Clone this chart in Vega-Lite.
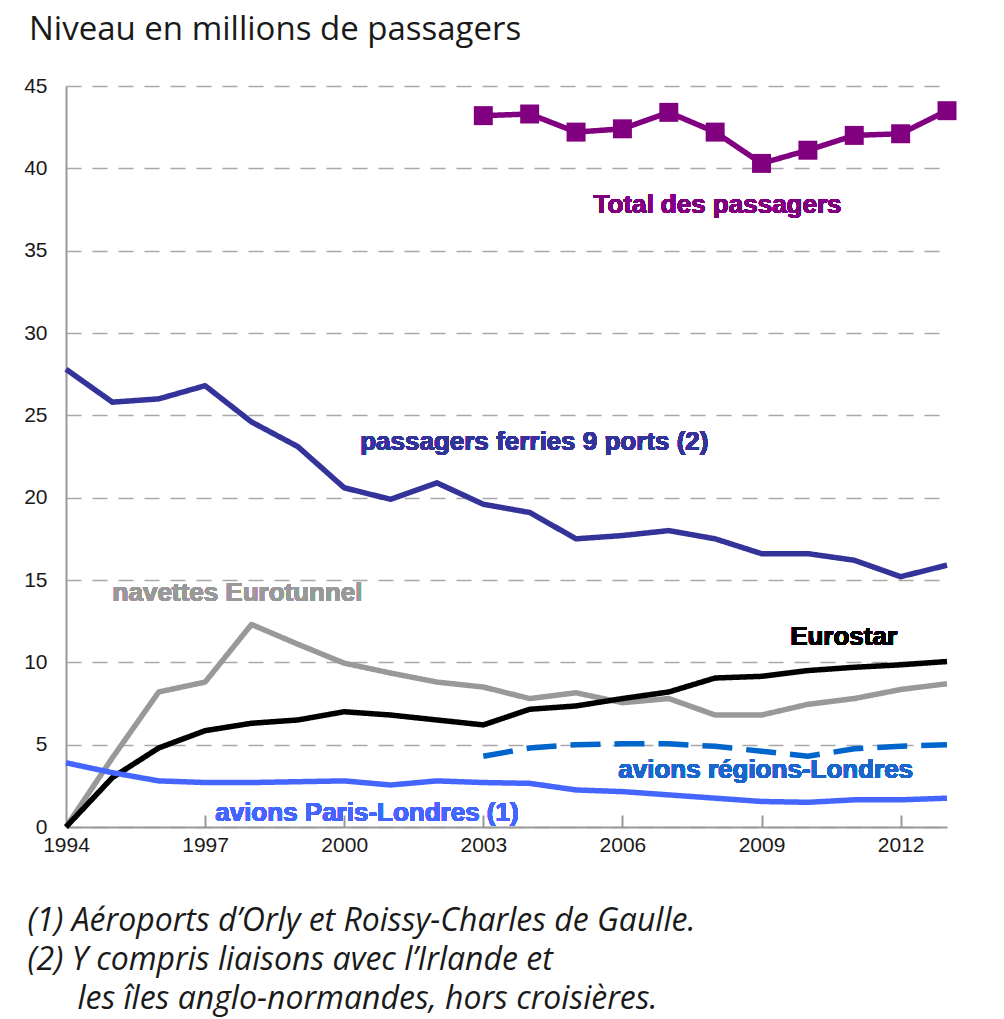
{
  "$schema": "https://vega.github.io/schema/vega-lite/v6.json",
  "width": 881,
  "height": 741,
  "autosize": {"type": "none"},
  "padding": {"left": 66, "top": 86, "right": 57, "bottom": 192},
  "background": "white",
  "title": {
    "text": "Niveau en millions de passagers",
    "anchor": "start",
    "frame": "group",
    "dx": -37,
    "font": "Open Sans",
    "fontSize": 33,
    "fontWeight": "normal",
    "color": "#1a1a1a",
    "baseline": "alphabetic",
    "offset": 2
  },
  "config": {
    "view": {"stroke": null},
    "axis": {"labelFont": "Liberation Sans", "labelFontSize": 21, "labelColor": "#1a1a1a"}
  },
  "resolve": {"axis": {"x": "independent"}},
  "data": {
    "values": [
      {"year": 2003, "series": "Total des passagers", "value": 43.2},
      {"year": 2004, "series": "Total des passagers", "value": 43.3},
      {"year": 2005, "series": "Total des passagers", "value": 42.2},
      {"year": 2006, "series": "Total des passagers", "value": 42.4},
      {"year": 2007, "series": "Total des passagers", "value": 43.4},
      {"year": 2008, "series": "Total des passagers", "value": 42.2},
      {"year": 2009, "series": "Total des passagers", "value": 40.3},
      {"year": 2010, "series": "Total des passagers", "value": 41.1},
      {"year": 2011, "series": "Total des passagers", "value": 42.0},
      {"year": 2012, "series": "Total des passagers", "value": 42.1},
      {"year": 2013, "series": "Total des passagers", "value": 43.5},

      {"year": 1994, "series": "passagers ferries 9 ports (2)", "value": 27.8},
      {"year": 1995, "series": "passagers ferries 9 ports (2)", "value": 25.8},
      {"year": 1996, "series": "passagers ferries 9 ports (2)", "value": 26.0},
      {"year": 1997, "series": "passagers ferries 9 ports (2)", "value": 26.8},
      {"year": 1998, "series": "passagers ferries 9 ports (2)", "value": 24.6},
      {"year": 1999, "series": "passagers ferries 9 ports (2)", "value": 23.1},
      {"year": 2000, "series": "passagers ferries 9 ports (2)", "value": 20.6},
      {"year": 2001, "series": "passagers ferries 9 ports (2)", "value": 19.9},
      {"year": 2002, "series": "passagers ferries 9 ports (2)", "value": 20.9},
      {"year": 2003, "series": "passagers ferries 9 ports (2)", "value": 19.6},
      {"year": 2004, "series": "passagers ferries 9 ports (2)", "value": 19.1},
      {"year": 2005, "series": "passagers ferries 9 ports (2)", "value": 17.5},
      {"year": 2006, "series": "passagers ferries 9 ports (2)", "value": 17.7},
      {"year": 2007, "series": "passagers ferries 9 ports (2)", "value": 18.0},
      {"year": 2008, "series": "passagers ferries 9 ports (2)", "value": 17.5},
      {"year": 2009, "series": "passagers ferries 9 ports (2)", "value": 16.6},
      {"year": 2010, "series": "passagers ferries 9 ports (2)", "value": 16.6},
      {"year": 2011, "series": "passagers ferries 9 ports (2)", "value": 16.2},
      {"year": 2012, "series": "passagers ferries 9 ports (2)", "value": 15.2},
      {"year": 2013, "series": "passagers ferries 9 ports (2)", "value": 15.9},

      {"year": 1994, "series": "navettes Eurotunnel", "value": 0},
      {"year": 1995, "series": "navettes Eurotunnel", "value": 4.2},
      {"year": 1996, "series": "navettes Eurotunnel", "value": 8.2},
      {"year": 1997, "series": "navettes Eurotunnel", "value": 8.8},
      {"year": 1998, "series": "navettes Eurotunnel", "value": 12.3},
      {"year": 1999, "series": "navettes Eurotunnel", "value": 11.1},
      {"year": 2000, "series": "navettes Eurotunnel", "value": 9.95},
      {"year": 2001, "series": "navettes Eurotunnel", "value": 9.35},
      {"year": 2002, "series": "navettes Eurotunnel", "value": 8.8},
      {"year": 2003, "series": "navettes Eurotunnel", "value": 8.5},
      {"year": 2004, "series": "navettes Eurotunnel", "value": 7.8},
      {"year": 2005, "series": "navettes Eurotunnel", "value": 8.15},
      {"year": 2006, "series": "navettes Eurotunnel", "value": 7.55},
      {"year": 2007, "series": "navettes Eurotunnel", "value": 7.8},
      {"year": 2008, "series": "navettes Eurotunnel", "value": 6.8},
      {"year": 2009, "series": "navettes Eurotunnel", "value": 6.8},
      {"year": 2010, "series": "navettes Eurotunnel", "value": 7.45},
      {"year": 2011, "series": "navettes Eurotunnel", "value": 7.8},
      {"year": 2012, "series": "navettes Eurotunnel", "value": 8.35},
      {"year": 2013, "series": "navettes Eurotunnel", "value": 8.7},

      {"year": 1994, "series": "Eurostar", "value": 0},
      {"year": 1995, "series": "Eurostar", "value": 3.0},
      {"year": 1996, "series": "Eurostar", "value": 4.8},
      {"year": 1997, "series": "Eurostar", "value": 5.85},
      {"year": 1998, "series": "Eurostar", "value": 6.3},
      {"year": 1999, "series": "Eurostar", "value": 6.5},
      {"year": 2000, "series": "Eurostar", "value": 7.0},
      {"year": 2001, "series": "Eurostar", "value": 6.8},
      {"year": 2002, "series": "Eurostar", "value": 6.5},
      {"year": 2003, "series": "Eurostar", "value": 6.2},
      {"year": 2004, "series": "Eurostar", "value": 7.15},
      {"year": 2005, "series": "Eurostar", "value": 7.35},
      {"year": 2006, "series": "Eurostar", "value": 7.8},
      {"year": 2007, "series": "Eurostar", "value": 8.2},
      {"year": 2008, "series": "Eurostar", "value": 9.05},
      {"year": 2009, "series": "Eurostar", "value": 9.15},
      {"year": 2010, "series": "Eurostar", "value": 9.5},
      {"year": 2011, "series": "Eurostar", "value": 9.7},
      {"year": 2012, "series": "Eurostar", "value": 9.85},
      {"year": 2013, "series": "Eurostar", "value": 10.05},

      {"year": 2003, "series": "avions régions-Londres", "value": 4.3},
      {"year": 2004, "series": "avions régions-Londres", "value": 4.8},
      {"year": 2005, "series": "avions régions-Londres", "value": 5.0},
      {"year": 2006, "series": "avions régions-Londres", "value": 5.05},
      {"year": 2007, "series": "avions régions-Londres", "value": 5.05},
      {"year": 2008, "series": "avions régions-Londres", "value": 4.9},
      {"year": 2009, "series": "avions régions-Londres", "value": 4.6},
      {"year": 2010, "series": "avions régions-Londres", "value": 4.3},
      {"year": 2011, "series": "avions régions-Londres", "value": 4.75},
      {"year": 2012, "series": "avions régions-Londres", "value": 4.9},
      {"year": 2013, "series": "avions régions-Londres", "value": 5.0},

      {"year": 1994, "series": "avions Paris-Londres (1)", "value": 3.9},
      {"year": 1995, "series": "avions Paris-Londres (1)", "value": 3.3},
      {"year": 1996, "series": "avions Paris-Londres (1)", "value": 2.8},
      {"year": 1997, "series": "avions Paris-Londres (1)", "value": 2.7},
      {"year": 1998, "series": "avions Paris-Londres (1)", "value": 2.7},
      {"year": 1999, "series": "avions Paris-Londres (1)", "value": 2.75},
      {"year": 2000, "series": "avions Paris-Londres (1)", "value": 2.8},
      {"year": 2001, "series": "avions Paris-Londres (1)", "value": 2.55},
      {"year": 2002, "series": "avions Paris-Londres (1)", "value": 2.8},
      {"year": 2003, "series": "avions Paris-Londres (1)", "value": 2.7},
      {"year": 2004, "series": "avions Paris-Londres (1)", "value": 2.65},
      {"year": 2005, "series": "avions Paris-Londres (1)", "value": 2.25},
      {"year": 2006, "series": "avions Paris-Londres (1)", "value": 2.15},
      {"year": 2007, "series": "avions Paris-Londres (1)", "value": 1.95},
      {"year": 2008, "series": "avions Paris-Londres (1)", "value": 1.75},
      {"year": 2009, "series": "avions Paris-Londres (1)", "value": 1.55},
      {"year": 2010, "series": "avions Paris-Londres (1)", "value": 1.5},
      {"year": 2011, "series": "avions Paris-Londres (1)", "value": 1.65},
      {"year": 2012, "series": "avions Paris-Londres (1)", "value": 1.65},
      {"year": 2013, "series": "avions Paris-Londres (1)", "value": 1.75}
    ]
  },
  "encoding": {
    "y": {
      "field": "value",
      "type": "quantitative",
      "scale": {"domain": [0, 45], "nice": false},
      "axis": {
        "values": [0, 5, 10, 15, 20, 25, 30, 35, 40, 45],
        "title": null,
        "ticks": false,
        "labelPadding": 19,
        "domainColor": "#999999",
        "domainWidth": 2,
        "gridColor": "#a8a8a8",
        "gridWidth": 1.5,
        "gridDash": [15, 11]
      }
    }
  },
  "layer": [
    {
      "mark": {"type": "line", "strokeWidth": 5.5, "strokeJoin": "round"},
      "encoding": {
        "x": {
          "field": "year",
          "type": "quantitative",
          "scale": {"domain": [1994, 2013], "nice": false, "zero": false},
          "axis": {
            "orient": "bottom",
            "values": [1994, 1997, 2000, 2003, 2006, 2009, 2012],
            "format": "d",
            "grid": false,
            "domainColor": "#999999",
            "domainWidth": 2,
            "ticks": false,
            "labelPadding": 7,
            "labelFlush": false,
            "title": [
              "(1) Aéroports d’Orly et Roissy-Charles de Gaulle.",
              "(2) Y compris liaisons avec l’Irlande et",
              "\u200b\u00a0\u00a0\u00a0\u00a0\u00a0\u00a0les îles anglo-normandes, hors croisières."
            ],
            "titleFont": "Open Sans",
            "titleFontSize": 32,
            "titleFontStyle": "italic",
            "titleFontWeight": "normal",
            "titleColor": "#1a1a1a",
            "titleAnchor": "start",
            "titleAlign": "left",
            "titleBaseline": "alphabetic",
            "titleX": -39,
            "titleY": 103,
            "titleLineHeight": 39
          }
        },
        "color": {
          "field": "series",
          "type": "nominal",
          "legend": null,
          "scale": {
            "domain": ["Total des passagers", "passagers ferries 9 ports (2)", "navettes Eurotunnel", "Eurostar", "avions régions-Londres", "avions Paris-Londres (1)"],
            "range": ["#800080", "#333399", "#999999", "#000000", "#0066cc", "#4466ff"]
          }
        },
        "strokeDash": {
          "field": "series",
          "type": "nominal",
          "legend": null,
          "scale": {
            "domain": ["Total des passagers", "passagers ferries 9 ports (2)", "navettes Eurotunnel", "Eurostar", "avions régions-Londres", "avions Paris-Londres (1)"],
            "range": [[1, 0], [1, 0], [1, 0], [1, 0], [30, 14], [1, 0]]
          }
        }
      }
    },
    {
      "transform": [{"filter": "datum.series === 'Total des passagers'"}],
      "mark": {"type": "square", "size": 360, "filled": true, "color": "#800080", "opacity": 1},
      "encoding": {
        "x": {
          "field": "year",
          "type": "quantitative",
          "axis": {
            "orient": "bottom",
            "values": [1997, 2000, 2003, 2006, 2009, 2012],
            "offset": -12,
            "domain": false,
            "labels": false,
            "grid": false,
            "ticks": true,
            "tickSize": 12,
            "tickColor": "#999999",
            "tickWidth": 2,
            "title": null
          }
        }
      }
    },
    {
      "mark": {"type": "text", "text": "Total des passagers", "font": "Liberation Sans", "fontSize": 26, "fontWeight": "bold", "color": "#800080"},
      "encoding": {"x": {"datum": 2008.05, "axis": null}, "y": {"datum": 37.8}}
    },
    {
      "mark": {"type": "text", "text": "passagers ferries 9 ports (2)", "font": "Liberation Sans", "fontSize": 26, "fontWeight": "bold", "color": "#333399"},
      "encoding": {"x": {"datum": 2004.1, "axis": null}, "y": {"datum": 23.4}}
    },
    {
      "mark": {"type": "text", "text": "navettes Eurotunnel", "font": "Liberation Sans", "fontSize": 26, "fontWeight": "bold", "color": "#999999"},
      "encoding": {"x": {"datum": 1997.7, "axis": null}, "y": {"datum": 14.2}}
    },
    {
      "mark": {"type": "text", "text": "Eurostar", "font": "Liberation Sans", "fontSize": 26, "fontWeight": "bold", "color": "#000000"},
      "encoding": {"x": {"datum": 2010.77, "axis": null}, "y": {"datum": 11.55}}
    },
    {
      "mark": {"type": "text", "text": "avions régions-Londres", "font": "Liberation Sans", "fontSize": 26, "fontWeight": "bold", "color": "#1a66cc"},
      "encoding": {"x": {"datum": 2009.09, "axis": null}, "y": {"datum": 3.46}}
    },
    {
      "mark": {"type": "text", "text": "avions Paris-Londres (1)", "font": "Liberation Sans", "fontSize": 26, "fontWeight": "bold", "color": "#4466ff"},
      "encoding": {"x": {"datum": 2000.49, "axis": null}, "y": {"datum": 0.85}}
    }
  ]
}
